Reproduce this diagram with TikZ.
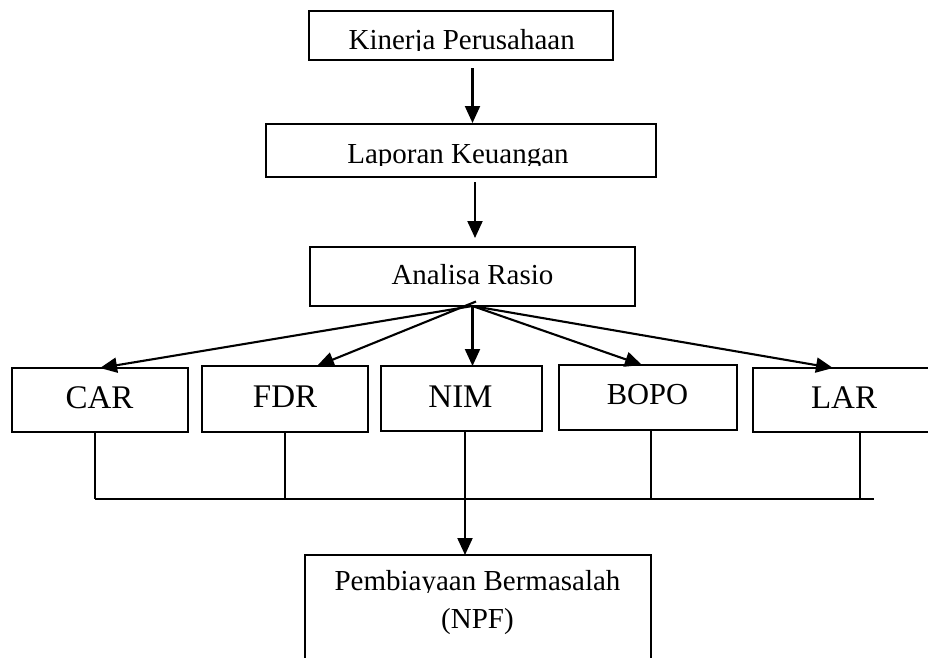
\documentclass[tikz,border=0pt]{standalone}
\usepackage{fontspec}
\setmainfont{Liberation Serif}
\usetikzlibrary{arrows.meta,calc}
\tikzset{
  box/.style={draw, line width=2.1pt, inner sep=0pt, outer sep=0pt},
  conn/.style={line width=2.1pt},
  arr/.style={line width=2.1pt, -{Triangle[length=17pt,width=15pt]}},
  lbl/.style={anchor=base, inner sep=0pt, font=\fontsize{29}{34}\selectfont},
  big/.style={anchor=base, inner sep=0pt, font=\fontsize{33}{38}\selectfont},
  mid/.style={anchor=base, inner sep=0pt, font=\fontsize{30.5}{36}\selectfont},
}
\begin{document}
\begin{tikzpicture}[x=1pt,y=-1pt]
\clip (0,0) rectangle (928,657);
\fill[white] (0,0) rectangle (928,657);
% boxes
\node[box, minimum width=304pt, minimum height=49pt] (kin) at (461,35.5) {};
\node[box, minimum width=390pt, minimum height=53pt] (lap) at (461,150.5) {};
\node[box, minimum width=325pt, minimum height=59pt] (ana) at (472.5,276.5) {};
\node[box, minimum width=176pt, minimum height=64pt] (car) at (100,400) {};
\node[box, minimum width=166pt, minimum height=66pt] (fdr) at (285,399) {};
\node[box, minimum width=161pt, minimum height=65pt] (nim) at (461.5,398.5) {};
\node[box, minimum width=178pt, minimum height=65pt] (bopo) at (648,397.5) {};
\node[box, minimum width=187pt, minimum height=64pt] (lar) at (846.5,400) {};
\node[box, minimum width=346pt, minimum height=130pt] (npf) at (478,620) {};
% texts (descenders clipped as in the reference)
\begin{scope}
\clip (300,0) rectangle (620,50.3);
\node[lbl] (tkin) at (461.7,49) {Kinerja Perusahaan};
\end{scope}
\begin{scope}
\clip (270,120) rectangle (650,165.5);
\node[lbl] (tlap) at (458,163) {Laporan Keuangan};
\end{scope}
\node[lbl] (tana) at (472.5,284) {Analisa Rasio};
\node[big] (tcar) at (99.5,408) {CAR};
\node[big] (tfdr) at (285,407) {FDR};
\node[big] (tnim) at (460.5,407) {NIM};
\node[mid] (tbopo) at (647.5,404) {BOPO};
\node[big] (tlar) at (844,408) {LAR};
\begin{scope}
\clip (310,560) rectangle (645,592.3);
\node[lbl] (tnpf1) at (477.5,590) {Pembiayaan Bermasalah};
\end{scope}
\node[lbl] (tnpf2) at (477.5,628) {(NPF)};
% top arrows
\draw[arr, shorten <=8pt, shorten >=1pt] (kin.south -| ana.north) -- (lap.north -| ana.north);
\draw[arr, shorten <=5pt, shorten >=9pt] ([xshift=2.5pt]lap.south -| ana.north) -- ([xshift=2.5pt]ana.north);
% fan
\coordinate (fan) at (ana.south);
\coordinate (fant) at (476,301.5);
\draw[arr] (fan) -- (car.north);
\draw[arr] (fant) -- ([xshift=32pt]fdr.north);
\draw[arr] (fan) -- (nim.north -| fan);
\draw[arr] (fan) -- ([xshift=-6pt]bopo.north);
\draw[arr] (fan) -- ([xshift=-13.5pt]lar.north);
% bus
\coordinate (busL) at (95,499);
\coordinate (busR) at (874,499);
\draw[conn] (busL) -- (busR);
\draw[conn] ([xshift=-5pt]car.south) -- (car.south -| busL) -- (busL);
\draw[conn] (fdr.south) -- (fdr.south |- busL);
\draw[conn] ([xshift=3pt]bopo.south) -- ([xshift=3pt]bopo.south |- busL);
\draw[conn] ([xshift=13.5pt]lar.south) -- ([xshift=13.5pt]lar.south |- busL);
\draw[arr] ([xshift=3.5pt]nim.south) -- ([xshift=3.5pt]nim.south |- npf.north);
\end{tikzpicture}
\end{document}
